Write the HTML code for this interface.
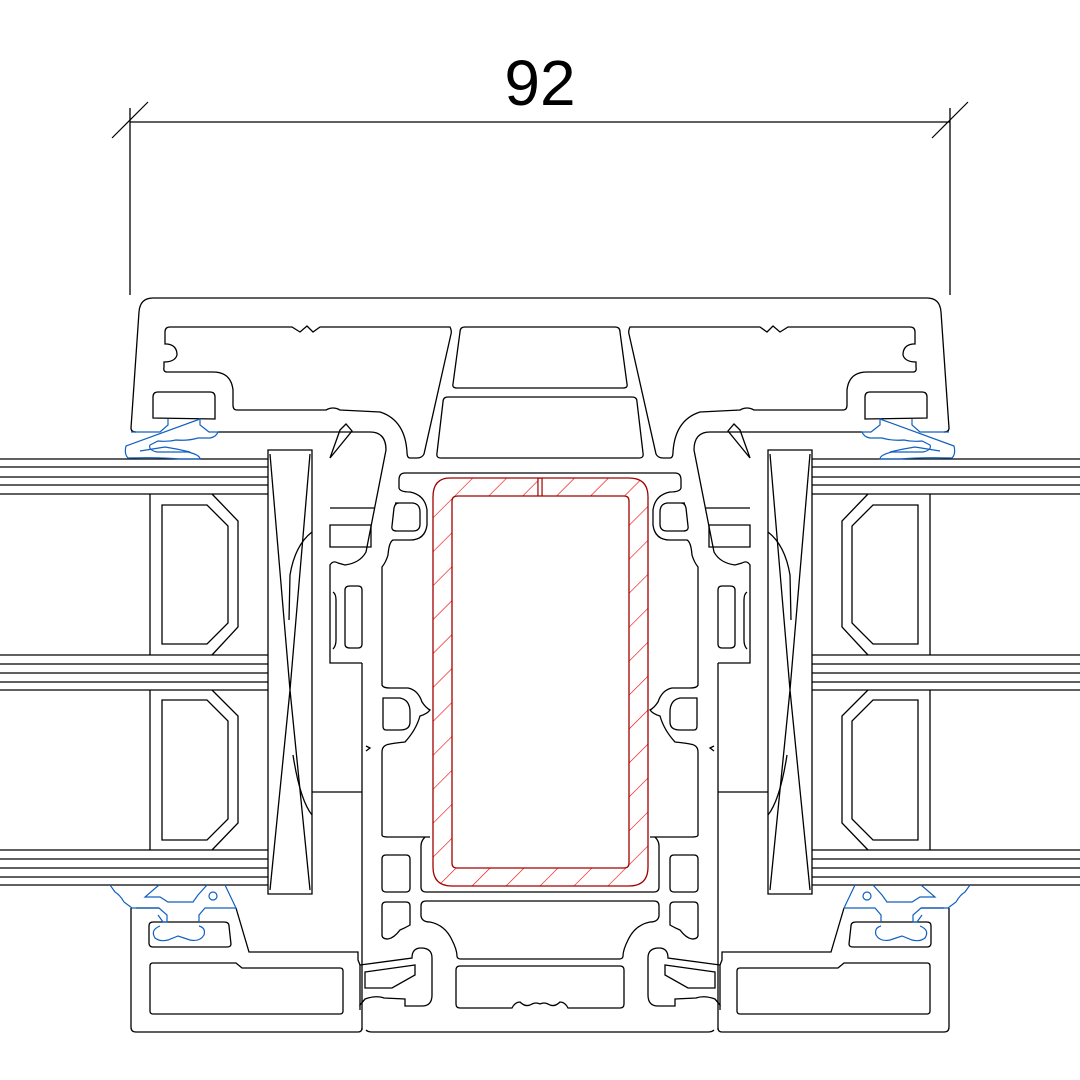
<!DOCTYPE html>
<html><head><meta charset="utf-8"><style>
html,body{margin:0;padding:0;background:#fff;width:1080px;height:1080px;overflow:hidden}
svg{display:block}
</style></head><body>
<svg width="1080" height="1080" viewBox="0 0 1080 1080" xmlns="http://www.w3.org/2000/svg">
<defs>
<pattern id="hat" patternUnits="userSpaceOnUse" width="24" height="24" patternTransform="rotate(45)">
<line x1="0" y1="0" x2="0" y2="24" stroke="#e00" stroke-width="1.2"/>
</pattern>
<g id="half" fill="none" stroke="#000" stroke-width="1.3">
 <!-- outer frame top -->
 <path d="M540 298 H153 Q140 298 139 312 L131 428 Q131 432 136 432"/>
 <path d="M218 432 H370 Q386 432 386 450 L366 552 Q360 563 345 565 L338 563 Q333 560 330 565 V663 H362"/>
 <!-- top chamber -->
 <path d="M450 327 Q452 331 451 334 L424 454 Q422 458 417 458 H410 Q407 458 407 452 Q405 420 380 412 L340 410 Q333 406 326 410 H237 Q233 410 233 405 V390 Q231 372 213 372 H167 Q163 372 164 367 V362 Q175 362 177 355 Q177 345 167 344 H165 V332 Q165 327 170 327 H292 L300 332 L307 326 L313 332 L320 327 H446 Z"/>
 <!-- gasket top block -->
 <path d="M153 418 V397 Q153 392 158 392 H210 Q215 392 215 397 V419 Z"/>
 <!-- sash lip -->
 <path d="M330 458 L340 430 L346 424 L352 431 L330 458 M340 430 L330 458"/>
 <path d="M330 508 H375 M330 525 H371 V547 H330 Z"/>
 <path d="M345 590 Q345 586 350 586 H358 Q362 586 362 590 V644 Q362 648 358 648 H350 Q345 648 345 644 Z"/>
 <path d="M333 592 Q336 594 336 600 V640 Q336 646 333 649"/>
 <!-- glass bands -->
 <path d="M0 459 H268 M0 467 H268 M0 477 H268 M0 485 H268 M0 494 H268"/>
 <path d="M0 655 H268 M0 664 H268 M0 673 H268 M0 682 H268 M0 690 H268"/>
 <path d="M0 850 H268 M0 859 H268 M0 868 H268 M0 877 H268 M0 885 H268"/>
 <!-- spacers -->
 <path d="M150 494 V655 M212 494 L238 521 V627 L212 655"/>
 <path d="M162 505 H207 L228 526 V623 L207 644 H162 Z"/>
 <path d="M150 690 V850 M212 690 L238 716 V823 L212 850"/>
 <path d="M162 700 H207 L228 721 V819 L207 840 H162 Z"/>
 <!-- wedge -->
 <path d="M268 450 H312 V894 H268 Z"/>
 <path d="M270 454 L290 690 L270 890 M310 454 L290 690 L310 890"/>
 <path d="M312 532 Q295 545 290 575 L289 620 M312 815 Q300 800 293 755"/>
 <path d="M312 792 H362 M362 663 V1030"/>
 <!-- mullion left side -->
 <path d="M405 473 H540 M405 473 Q399 473 399 480 V488 Q400 492 410 492 Q425 495 427 510 V525 Q425 540 410 540 H393 Q389 542 388 555 Q386 562 382 567 V685 Q383 688 390 688 H408 Q418 690 422 702 Q426 708 430 710 Q427 714 420 716 Q416 730 405 742 Q395 743 390 744 Q382 745 382 752 V835 Q382 837 388 837 H430"/>
 <path d="M395 503 H413 Q420 504 420 512 V524 Q420 531 413 531 H397 Q391 531 392 526 L394 508 Q395 503 399 503 Z"/>
 <path d="M383 698 H400 Q410 700 410 712 V722 Q410 730 400 730 H386 Q383 730 383 726 Z"/>
 <path d="M366 746 L370 748 L366 751"/>
 <!-- lower mullion -->
 <path d="M386 855 H406 Q410 855 410 859 V888 Q410 892 406 892 H386 Q382 892 382 888 V859 Q382 855 386 855 Z"/>
 <path d="M386 902 H406 Q410 902 410 906 V925 Q405 928 400 930 Q394 938 388 939 Q382 939 382 935 V906 Q382 902 386 902 Z"/>
 <path d="M425 837 Q421 841 421 846 V887 Q421 892 426 892 H540"/>
 <path d="M426 901 H540 M426 901 Q421 901 421 906 V916 Q422 922 430 922 Q445 925 452 940 Q457 950 457 956 Q457 959 461 959 H540"/>
 <path d="M460 966 H540 M460 966 Q456 966 456 970 V1004 Q456 1008 460 1008 H512 Q515 1002 520 1002 Q526 1008 532 1004 Q536 1002 540 1004"/>
 <!-- clip -->
 <path d="M360 965 L412 958 Q412 948 421 948 Q432 948 432 958 V995 Q432 1006 422 1006 H405 V999 L384 998 Q376 995 365 999 L360 1005 Z"/>
 <path d="M365 972 L415 965 V975 L392 988 H365 Z"/>
 <path d="M365 999 L360 1005 V1010"/>
 <!-- bottom frame -->
 <path d="M131 908 V1027 Q131 1032 136 1032 H358 Q362 1032 362 1028 M366 1030 Q368 1032 372 1032 H540"/>
 <path d="M136 908 H159 M236 908 L249 952 H358 V960 L360 965"/>
 <path d="M153 963 H236 L242 968 H340 Q343 968 343 971 V1011 Q343 1014 340 1014 H153 Q150 1014 150 1011 V966 Q150 963 153 963 Z"/>
 <path d="M153 922 H224 Q229 922 229 926 L231 944 Q231 947 227 947 H153 Q149 947 149 943 V926 Q149 922 153 922 Z"/>
 <!-- dimension extension line -->
 <path d="M130 108 V295"/>
 <!-- center top chambers -->
 <path d="M540 327 H465 Q460 327 460 332 L453 384 Q452 388 457 388 H540"/>
 <path d="M540 397 H448 Q443 397 443 402 L437 453 Q436 458 441 458 H540"/>
</g>
<g id="gasket" fill="none" stroke="#1060c0" stroke-width="1.2">
 <path d="M131 432 H160 L168 425 V419 M200 419 V425 L209 432 H218 Q216 437 210 438 H198 Q188 441 176 440 Q168 442 158 441 L150 445 Q148 450 157 452 L188 452 Q200 455 200 459 H180 Q160 457 128 458 Q124 454 126 446 Z"/>
 <path d="M140 451 L165 447 Q178 449 190 452"/>
 <path d="M110 885 L115 892 Q120 895 124 902 L132 908 H159 L167 915 V922 H163 L158 915 M199 922 V915 L205 908 H236 L225 885 M159 885 L145 897 H160 L168 902 H193 L198 895 L207 885"/>
 <path d="M160 926 Q150 930 155 938 Q160 942 168 940 L178 936 L190 940 Q200 942 204 935 Q206 928 199 926"/>
 <circle cx="213" cy="896" r="4"/>
</g>
</defs>
<use href="#half"/>
<use href="#half" transform="translate(1080,0) scale(-1,1)"/>
<use href="#gasket"/>
<use href="#gasket" transform="translate(1080,0) scale(-1,1)"/>
<!-- steel reinforcement -->
<path fill-rule="evenodd" fill="url(#hat)" stroke="#a00000" stroke-width="1.3"
 d="M450 478 H629 Q648 478 648 497 V867 Q648 886 629 886 H452 Q433 886 433 867 V497 Q433 478 450 478 Z M458 496 H624 Q629 496 629 501 V863 Q629 868 624 868 H457 Q452 868 452 863 V501 Q452 496 458 496 Z"/>
<path d="M538 478 V496 M542 478 V496" stroke="#a00000" stroke-width="1.3"/>
<rect x="538.7" y="479" width="2.6" height="16" fill="#fff"/>
<!-- dimension -->
<g stroke="#000" stroke-width="1.2" fill="none">
 <path d="M130 122 H950 M112 138 L148 102 M932 138 L968 102"/>
</g>
<text x="540" y="105" font-family="Liberation Sans, sans-serif" font-size="64" text-anchor="middle" fill="#000">92</text>
</svg>
</body></html>
